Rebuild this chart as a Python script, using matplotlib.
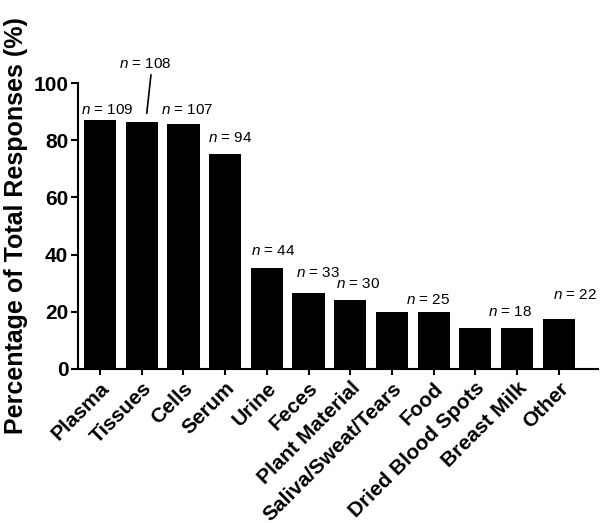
import matplotlib.pyplot as plt

plt.rcParams['font.family'] = ['Liberation Sans', 'DejaVu Sans']
plt.rcParams['mathtext.fontset'] = 'custom'
plt.rcParams['mathtext.it'] = 'Liberation Sans:italic'
plt.rcParams['mathtext.rm'] = 'Liberation Sans'

categories = ["Plasma", "Tissues", "Cells", "Serum", "Urine", "Feces", "Plant Material",
              "Saliva/Sweat/Tears", "Food", "Dried Blood Spots", "Breast Milk", "Other"]
percent = [87.2, 86.4, 85.6, 75.2, 35.2, 26.4, 24.0, 20.0, 20.0, 14.4, 14.4, 17.6]

# n labels (some are shared by two neighbouring bars)
n_labels = ["109", "108", "107", "94", "44", "33", "30", "25", "18", "22"]
n_label_x = [0.17, 1.08, 2.09, 3.12, 4.15, 5.23, 6.19, 7.87, 9.83, 11.39]
n_label_y = [90.6, 106.6, 90.6, 80.8, 41.3, 33.6, 29.7, 24.1, 19.9, 25.9]

fig = plt.figure(figsize=(6, 5.23), dpi=100)
ax = fig.add_axes([0.13, 0.2945, 0.867, 0.5468])

x = range(len(categories))
ax.bar(x, percent, width=0.77, color="black")

for lab, lx, ly in zip(n_labels, n_label_x, n_label_y):
    ax.text(lx, ly, "$\\it{n}$ = " + lab, ha="center", va="center", fontsize=11)
# leader line for n = 108
ax.plot([1.22, 1.12], [102.8, 89.5], color="black", lw=1.2, clip_on=False)

ax.set_xlim(-0.53, 11.95)
ax.set_ylim(0, 100)
ax.set_yticks([0, 20, 40, 60, 80, 100])
ax.set_xticks(list(x))
ax.set_xticklabels(categories, rotation=45, ha="right", rotation_mode="anchor",
                   fontsize=15, fontweight="bold")
for t in ax.get_yticklabels():
    t.set_fontsize(15)
    t.set_fontweight("bold")
ax.set_ylabel("Percentage of Total Responses (%)", fontsize=18, fontweight="bold", labelpad=4)

ax.spines["top"].set_visible(False)
ax.spines["right"].set_visible(False)
ax.spines["left"].set_linewidth(1.5)
ax.spines["bottom"].set_linewidth(1.5)
ax.tick_params(axis="y", direction="out", length=5, width=1.5, pad=2)
ax.tick_params(axis="x", direction="out", length=4, width=1.5, pad=3)

fig.savefig("out.png", dpi=100)
